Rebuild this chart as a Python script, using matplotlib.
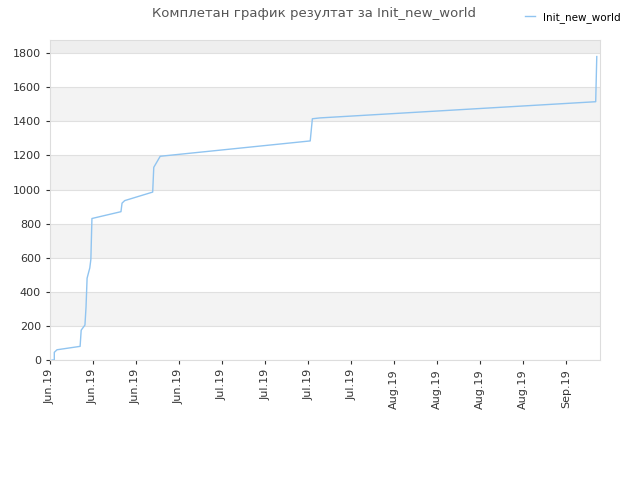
import matplotlib
matplotlib.use("Agg")
import matplotlib.pyplot as plt
import numpy as np

# x in days since first tick, y cumulative results
days = [0.4, 0.8, 0.8, 1.3, 5.6, 5.8, 6.5, 6.7, 6.9, 7.4, 7.6, 7.8, 13.2, 13.4, 13.9, 19.1, 19.3, 20.5, 48.4, 48.8, 50.2, 101.5, 101.7]
vals = [0, 0, 45, 60, 80, 175, 205, 310, 480, 540, 590, 830, 870, 920, 935, 985, 1130, 1195, 1285, 1415, 1420, 1515, 1780]
tick_days = list(range(0, 97, 8))
tick_labels = ["Jun.19"]*4 + ["Jul.19"]*4 + ["Aug.19"]*4 + ["Sep.19"]

fig = plt.figure(figsize=(6.4, 4.8), dpi=100)
ax = fig.add_axes([50/640, 1-360/480, 550/640, 320/480])
ymax = 1877
for i, lo in enumerate(range(0, 1800, 200)):
    ax.axhspan(lo, lo+200, color="#f3f3f3" if i % 2 else "white", zorder=0, lw=0)
ax.axhspan(1800, ymax, color="#eeeeee", zorder=0, lw=0)
for v in range(0, 1801, 200):
    ax.axhline(v, color="#e0e0e0", lw=0.8, zorder=1)
ax.plot(days, vals, color="#90c4f0", lw=1.0, label="Init_new_world", zorder=3)
ax.set_xlim(0, 102.3)
ax.set_ylim(0, ymax)
ax.set_yticks(range(0, 1801, 200))
ax.set_xticks(tick_days)
ax.set_xticklabels(tick_labels, rotation=90)
ax.tick_params(labelsize=8, colors="#333333", length=3)
for s in ax.spines.values():
    s.set_color("#dddddd")
fig.suptitle("Комплетан график резултат за Init_new_world", x=0.49, y=0.985, fontsize=9.5, color="#555555")
fig.legend(loc="upper right", bbox_to_anchor=(0.985, 0.995), frameon=False, fontsize=7.5, handlelength=1)
fig.savefig("out.png")
